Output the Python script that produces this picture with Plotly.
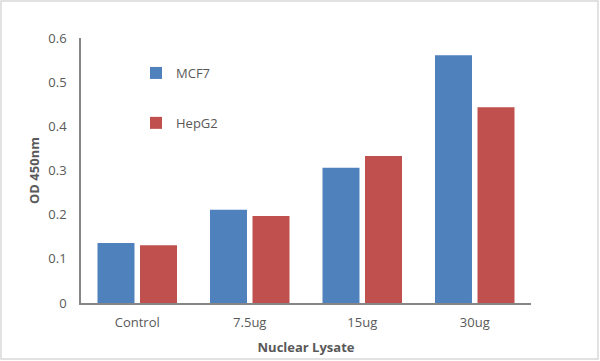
import plotly.graph_objects as go

categories = ["Control", "7.5ug", "15ug", "30ug"]
mcf7 = [0.136, 0.211, 0.306, 0.561]
hepg2 = [0.131, 0.197, 0.333, 0.443]
y_ticks = [0, 0.1, 0.2, 0.3, 0.4, 0.5, 0.6]
y_ticktext = ["0", "0.1", "0.2", "0.3", "0.4", "0.5", "0.6"]

W, H = 600, 361
L, R, T, B = 81, 69, 38, 58
pw, ph = W - L - R, H - T - B

font = "Open Sans, Liberation Sans, sans-serif"
txt = "#595959"

fig = go.Figure()
fig.add_trace(go.Bar(name="MCF7", x=categories, y=mcf7, marker_color="#4F81BD",
                     marker_line_width=0, legendgroup="a"))
fig.add_trace(go.Bar(name="HepG2", x=categories, y=hepg2, marker_color="#C0504D",
                     marker_line_width=0, legendgroup="b"))

fig.update_layout(
    width=W, height=H,
    margin=dict(l=L, r=R, t=T, b=B, autoexpand=False),
    paper_bgcolor="white", plot_bgcolor="white",
    barmode="group", bargap=0.244, bargroupgap=0.13,
    font=dict(family=font, size=13, color=txt),
    showlegend=True,
    legend=dict(x=(136 - L) / pw, y=(303 - 58) / ph, xanchor="left", yanchor="top",
                bgcolor="rgba(0,0,0,0)", tracegroupgap=30,
                font=dict(size=13, color=txt), itemwidth=30),
    xaxis=dict(showline=True, linecolor="#868686", linewidth=1.5, ticks="",
               showgrid=False, tickfont=dict(size=13, color=txt), ticklabelstandoff=7,
               automargin=False,
               title=dict(text="<b>Nuclear Lysate</b>", font=dict(size=13, color=txt), standoff=13)),
    yaxis=dict(range=[0, 0.6], tickvals=y_ticks, ticktext=y_ticktext, showline=True,
               linecolor="#868686", linewidth=1.5, ticks="", showgrid=False, zeroline=False,
               tickfont=dict(size=13, color=txt), ticklabelstandoff=10, automargin=False,
               title=dict(text="<b>OD 450nm</b>", font=dict(size=13, color=txt), standoff=6)),
    shapes=[dict(type="rect", xref="paper", yref="paper",
                 x0=(1 - L) / pw, x1=(598 - L) / pw,
                 y0=(303 - 359) / ph, y1=(303 - 1) / ph,
                 line=dict(color="#D9D9D9", width=1.5), fillcolor="rgba(0,0,0,0)")],
)

fig.write_html(
    "out.html",
    config={"displayModeBar": False, "responsive": False},
    post_script="document.body.style.margin='0';document.body.style.overflow='hidden';",
)
